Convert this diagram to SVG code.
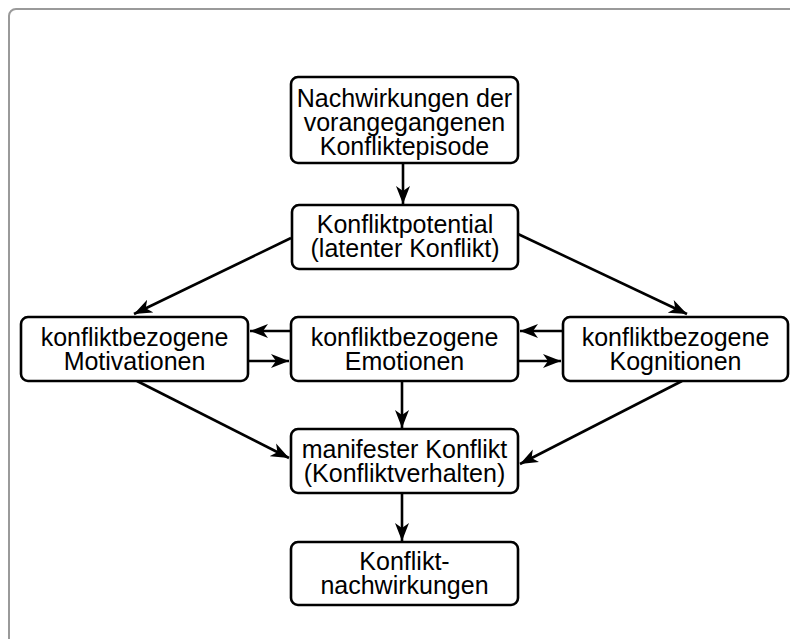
<svg xmlns="http://www.w3.org/2000/svg" width="790" height="639" viewBox="0 0 790 639">
<style>
.box{fill:#fff;stroke:#000;stroke-width:2.6}
.t{font-family:"Liberation Sans",Arial,sans-serif;font-size:25px;fill:#000;text-anchor:middle}
.c{stroke:#000;stroke-width:2.6;fill:none;marker-end:url(#ah)}
</style>
<defs>
<marker id="ah" markerUnits="userSpaceOnUse" markerWidth="20" markerHeight="16" viewBox="0 0 20 16" refX="18" refY="8" orient="auto">
<path d="M0,1 L18,8 L0,15 L5,8 z" fill="#000"/>
</marker>
</defs>
<rect x="9" y="9" width="800" height="700" rx="7" fill="#fff" stroke="#9a9a9a" stroke-width="2"/>
<g id="connectors">
<line class="c" x1="403" y1="163" x2="403" y2="204"/>
<line class="c" x1="291" y1="238" x2="134" y2="314"/>
<line class="c" x1="518" y1="234" x2="687" y2="314"/>
<line class="c" x1="291" y1="331" x2="250" y2="331"/>
<line class="c" x1="248" y1="361" x2="289" y2="361"/>
<line class="c" x1="563" y1="331" x2="520" y2="331"/>
<line class="c" x1="518" y1="361" x2="561" y2="361"/>
<line class="c" x1="137" y1="381" x2="289" y2="458"/>
<line class="c" x1="682" y1="381" x2="520" y2="464"/>
<line class="c" x1="402" y1="381" x2="402" y2="428"/>
<line class="c" x1="402" y1="493" x2="402" y2="541"/>
</g>
<g id="n1">
<rect class="box" x="291" y="77" width="227" height="86" rx="7"/>
<text class="t" x="404.5" y="107">Nachwirkungen der</text>
<text class="t" x="404.5" y="131">vorangegangenen</text>
<text class="t" x="404.5" y="155">Konfliktepisode</text>
</g>
<g id="n2">
<rect class="box" x="292" y="205" width="226" height="64" rx="7"/>
<text class="t" x="405" y="233">Konfliktpotential</text>
<text class="t" x="405" y="257">(latenter Konflikt)</text>
</g>
<g id="n3">
<rect class="box" x="21" y="317" width="227" height="64" rx="7"/>
<text class="t" x="134.5" y="346">konfliktbezogene</text>
<text class="t" x="134.5" y="370">Motivationen</text>
</g>
<g id="n4">
<rect class="box" x="291" y="317" width="227" height="64" rx="7"/>
<text class="t" x="404.5" y="346">konfliktbezogene</text>
<text class="t" x="404.5" y="370">Emotionen</text>
</g>
<g id="n5">
<rect class="box" x="563" y="317" width="225" height="64" rx="7"/>
<text class="t" x="675.5" y="346">konfliktbezogene</text>
<text class="t" x="675.5" y="370">Kognitionen</text>
</g>
<g id="n6">
<rect class="box" x="291" y="429" width="227" height="64" rx="7"/>
<text class="t" x="404.5" y="458">manifester Konflikt</text>
<text class="t" x="404.5" y="482">(Konfliktverhalten)</text>
</g>
<g id="n7">
<rect class="box" x="291" y="542" width="227" height="63" rx="7"/>
<text class="t" x="404.5" y="570">Konflikt-</text>
<text class="t" x="404.5" y="594">nachwirkungen</text>
</g>
</svg>
